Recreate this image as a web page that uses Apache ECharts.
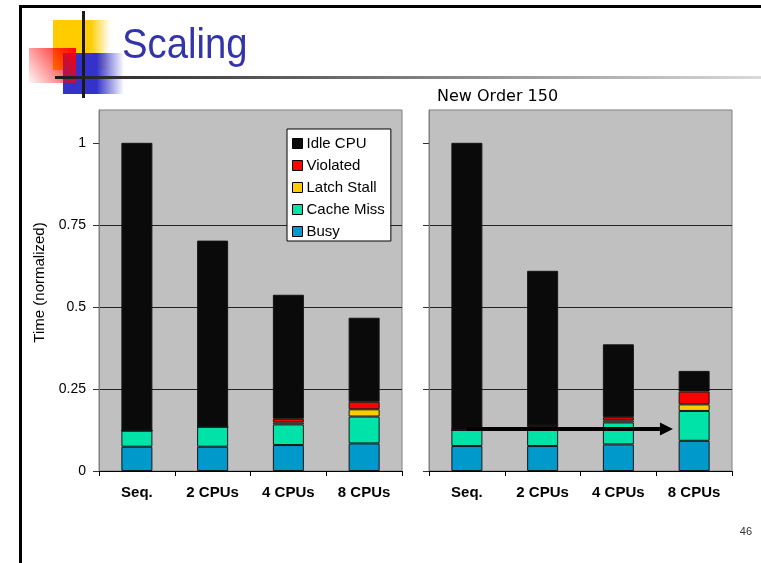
<!doctype html>
<html>
<head>
<meta charset="utf-8">
<title>Scaling</title>
<style>
    html, body { margin: 0; padding: 0; background: #fff; }
    #chart { width: 761px; height: 563px; }
</style>
</head>
<body>
<div id="chart"></div>
<script src="https://cdn.jsdelivr.net/npm/echarts@6/dist/echarts.min.js"></script>
<script>
// categories and tick labels
var categories = ['Seq.', '2 CPUs', '4 CPUs', '8 CPUs'];
var yTicks = [0, 0.25, 0.5, 0.75, 1];

// stack order, bottom to top
var stackNames = ['Busy', 'Cache Miss', 'Latch Stall', 'Violated', 'Idle CPU'];
var legendNames = ['Idle CPU', 'Violated', 'Latch Stall', 'Cache Miss', 'Busy'];
var stackColors = ['#0099cc', '#00e3a8', '#ffcc00', '#ff0000', '#0a0a0a'];

// left panel (overall)
var leftBusy     = [0.074, 0.074, 0.079, 0.084];
var leftCache    = [0.049, 0.061, 0.063, 0.082];
var leftLatch    = [0, 0, 0.006, 0.022];
var leftViolated = [0, 0, 0.011, 0.023];
var leftIdle     = [0.877, 0.567, 0.378, 0.256];

// right panel (New Order 150)
var rightBusy     = [0.076, 0.076, 0.081, 0.092];
var rightCache    = [0.049, 0.061, 0.067, 0.091];
var rightLatch    = [0, 0.002, 0.006, 0.020];
var rightViolated = [0, 0, 0.010, 0.039];
var rightIdle     = [0.875, 0.471, 0.222, 0.063];

var arrowLevel = 0.128;

var chart = echarts.init(document.getElementById('chart'));

var panelSeries = function (idx, values) {
    return stackNames.map(function (name, i) {
        return {
            name: name,
            type: 'bar',
            stack: 'panel' + idx,
            xAxisIndex: idx,
            yAxisIndex: idx,
            barWidth: 31,
            data: values[i],
            itemStyle: { color: stackColors[i], borderColor: '#151515', borderWidth: 1 },
            emphasis: { disabled: true }
        };
    });
};

var xAxisFor = function (idx) {
    return {
        type: 'category',
        gridIndex: idx,
        data: categories,
        axisLine: { lineStyle: { color: '#000', width: 1 } },
        axisTick: { show: true, length: 5, lineStyle: { color: '#000' } },
        axisLabel: { color: '#000', fontSize: 15, fontWeight: 'bold', fontFamily: 'Liberation Sans, Arial', margin: 14 }
    };
};

var yAxisFor = function (idx) {
    return {
        type: 'value',
        gridIndex: idx,
        min: 0,
        max: 1.1,
        interval: 0.25,
        name: idx === 0 ? 'Time (normalized)' : '',
        nameLocation: 'middle',
        nameGap: 52,
        nameTextStyle: { color: '#000', fontSize: 15, fontFamily: 'Liberation Sans, Arial', padding: [0, 0, 0, 16] },
        axisLine: { show: true, lineStyle: { color: '#808080' } },
        axisTick: { show: true, length: 6, customValues: yTicks, lineStyle: { color: '#333' } },
        axisLabel: {
            show: idx === 0,
            customValues: yTicks,
            color: '#000', fontSize: 14, fontFamily: 'Liberation Sans, Arial', margin: 13
        },
        splitLine: { show: true, showMaxLine: false, showMinLine: false, lineStyle: { color: '#222', width: 1 } }
    };
};

chart.setOption({
    animation: false,
    grid: [
        { left: 99, top: 110, width: 303, height: 361, show: true, backgroundColor: '#c0c0c0', borderColor: '#808080', borderWidth: 1 },
        { left: 429, top: 110, width: 303, height: 361, show: true, backgroundColor: '#c0c0c0', borderColor: '#808080', borderWidth: 1 }
    ],
    legend: {
        data: legendNames,
        orient: 'vertical',
        left: 287,
        top: 129,
        backgroundColor: '#fff',
        borderColor: '#000',
        borderWidth: 1,
        padding: [6, 6, 1, 5],
        itemWidth: 10,
        itemHeight: 10,
        itemGap: 5,
        icon: 'rect',
        itemStyle: { borderColor: '#000', borderWidth: 1 },
        textStyle: { color: '#000', fontSize: 15, fontFamily: 'Liberation Sans, Arial', lineHeight: 17, padding: [0, 0, 0, -1] },
        selectedMode: false
    },
    xAxis: [xAxisFor(0), xAxisFor(1)],
    yAxis: [yAxisFor(0), yAxisFor(1)],
    series: panelSeries(0, [leftBusy, leftCache, leftLatch, leftViolated, leftIdle])
        .concat(panelSeries(1, [rightBusy, rightCache, rightLatch, rightViolated, rightIdle]))
});

// arrow across the right panel, placed through the axes
var p0 = chart.convertToPixel({ xAxisIndex: 1, yAxisIndex: 1 }, [categories[0], arrowLevel]);
var p1 = chart.convertToPixel({ xAxisIndex: 1, yAxisIndex: 1 }, [categories[1], arrowLevel]);
var p3 = chart.convertToPixel({ xAxisIndex: 1, yAxisIndex: 1 }, [categories[3], arrowLevel]);
var band = p1[0] - p0[0];
var tipX = p3[0] - band * 0.28;
var ay = p0[1];

chart.setOption({
    graphic: [
        // slide frame
        { type: 'rect', left: 19, top: 5, shape: { width: 742, height: 3 }, style: { fill: '#000' } },
        { type: 'rect', left: 19, top: 5, shape: { width: 3, height: 558 }, style: { fill: '#000' } },
        // logo squares
        { type: 'rect', x: 53, y: 20, shape: { width: 57, height: 50 },
          style: { fill: new echarts.graphic.LinearGradient(0, 0, 1, 0, [
              { offset: 0, color: '#ffcc00' }, { offset: 0.66, color: '#ffcc00' }, { offset: 1, color: 'rgba(255,204,0,0)' }]) } },
        { type: 'rect', x: 63, y: 53, shape: { width: 61, height: 41 },
          style: { fill: new echarts.graphic.LinearGradient(0, 0, 1, 0, [
              { offset: 0, color: '#3333cc' }, { offset: 0.55, color: '#3333cc' }, { offset: 1, color: 'rgba(51,51,204,0)' }]) } },
        { type: 'rect', x: 29, y: 48, shape: { width: 47, height: 35 },
          style: { fill: new echarts.graphic.LinearGradient(1, 0, 0, 1, [
              { offset: 0, color: '#ff0000' }, { offset: 1, color: 'rgba(255,0,0,0.03)' }]) } },
        // logo lines
        { type: 'rect', x: 82, y: 11, shape: { width: 3, height: 87 }, style: { fill: '#1a1a1a' } },
        { type: 'rect', x: 55, y: 76, shape: { width: 706, height: 3 },
          style: { fill: new echarts.graphic.LinearGradient(0, 0, 1, 0, [
              { offset: 0, color: '#1a1a1a' }, { offset: 0.1, color: '#333' }, { offset: 1, color: '#dadada' }]) } },
        // slide title
        { type: 'text', x: 122, y: 46, scaleX: 0.89,
          style: { text: 'Scaling', fill: '#3333aa', font: '43px "Liberation Sans", Arial', textAlign: 'left', textVerticalAlign: 'middle' } },
        // panel title
        { type: 'text', x: 437, y: 97,
          style: { text: 'New Order 150', fill: '#000', font: '16px "DejaVu Sans", Verdana', textAlign: 'left', textVerticalAlign: 'middle' } },
        // page number
        { type: 'text', x: 752, y: 532,
          style: { text: '46', fill: '#333', font: '11px "Liberation Sans", Arial', textAlign: 'right', textVerticalAlign: 'middle' } },
        // arrow
        { type: 'rect', z: 100, shape: { x: p0[0], y: ay - 2, width: tipX - 13 - p0[0], height: 4 }, style: { fill: '#000' } },
        { type: 'polygon', z: 100, shape: { points: [[tipX - 13, ay - 6.5], [tipX, ay], [tipX - 13, ay + 6.5]] }, style: { fill: '#000' } }
    ]
});
</script>
</body>
</html>
